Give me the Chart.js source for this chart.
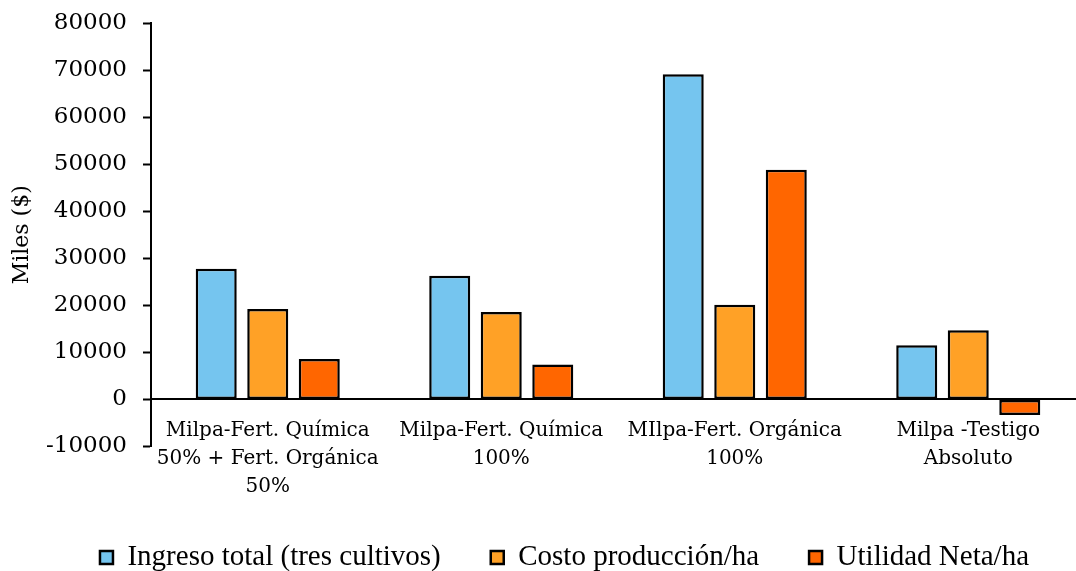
<!DOCTYPE html>
<html>
<head>
<meta charset="utf-8">
<script src="https://cdn.jsdelivr.net/npm/chart.js@4/dist/chart.umd.min.js"></script>
<style>
  html, body { margin: 0; padding: 0; background: #fff; }
  #wrap { width: 1076px; height: 571px; overflow: hidden; position: relative; }
  #chart-box { width: 1086px; height: 582px; position: absolute; left: 0; top: 0; }
</style>
</head>
<body>
<div id="wrap"><div id="chart-box"><canvas id="costos-chart"></canvas></div></div>
<script>
// Tratamientos (categorías del eje x)
const tratamientos = [
  ['Milpa-Fert. Química', '50% + Fert. Orgánica', '50%'],
  ['Milpa-Fert. Química', '100%'],
  ['MIlpa-Fert. Orgánica', '100%'],
  ['Milpa -Testigo', 'Absoluto']
];

// Valores en miles de pesos
const ingresoTotal = [27800, 26300, 69100, 11500];
const costoProduccion = [19200, 18600, 20100, 14700];
const utilidadNeta = [8600, 7400, 48800, -3300];

const yMin = -10000;
const yMax = 80000;
const yStep = 10000;

const serifFont = "'DejaVu Serif', serif";

const ctx = document.getElementById('costos-chart').getContext('2d');
const chart = new Chart(ctx, {
  type: 'bar',
  data: {
    labels: tratamientos,
    datasets: [{
      label: 'Ingreso total (tres cultivos)',
      data: ingresoTotal,
      backgroundColor: '#75C5EF',
      borderColor: '#000',
      borderWidth: 2.5,
      borderSkipped: false
    }, {
      label: 'Costo producción/ha',
      data: costoProduccion,
      backgroundColor: '#FFA126',
      borderColor: '#000',
      borderWidth: 2.5,
      borderSkipped: false
    }, {
      label: 'Utilidad Neta/ha',
      data: utilidadNeta,
      backgroundColor: '#FF6600',
      borderColor: '#000',
      borderWidth: 2.5,
      borderSkipped: false
    }]
  },
  options: {
    responsive: true,
    maintainAspectRatio: false,
    animation: false,
    categoryPercentage: 0.662,
    barPercentage: 0.796,
    layout: {
      padding: { left: 44, top: 23, right: 1, bottom: 0 }
    },
    plugins: {
      tooltip: { enabled: false },
      legend: {
        position: 'bottom',
        // empty title only keeps the gap between the axis labels and the legend
        title: {
          display: true,
          text: '',
          padding: 0,
          font: { size: 10, lineHeight: 4.65 }
        },
        labels: {
          color: '#000',
          boxWidth: 13,
          boxHeight: 13,
          padding: 50,
          font: { family: "'Liberation Serif', serif", size: 29 }
        }
      }
    },
    scales: {
      x: {
        position: { y: 0 },
        grid: { display: false, drawTicks: false },
        border: { display: true, color: '#000', width: 2 },
        ticks: {
          color: '#000',
          padding: 17.5,
          maxRotation: 0,
          autoSkip: false,
          font: { family: serifFont, size: 20, lineHeight: 1.4 }
        }
      },
      y: {
        min: yMin,
        max: yMax,
        grid: {
          drawOnChartArea: false,
          tickColor: '#000',
          tickLength: 8,
          tickWidth: 2
        },
        border: { display: true, color: '#000', width: 2 },
        ticks: {
          stepSize: yStep,
          color: '#000',
          padding: 16,
          font: { family: serifFont, size: 23 },
          callback: (value) => String(value)
        },
        title: {
          display: true,
          text: 'Miles ($)',
          color: '#000',
          padding: { top: -35, bottom: 0 },
          font: { family: serifFont, size: 22 }
        },
        afterFit: (scale) => {
          scale.width = 107;
          scale.paddingTop = 0;
        }
      }
    }
  }
});
</script>
</body>
</html>
